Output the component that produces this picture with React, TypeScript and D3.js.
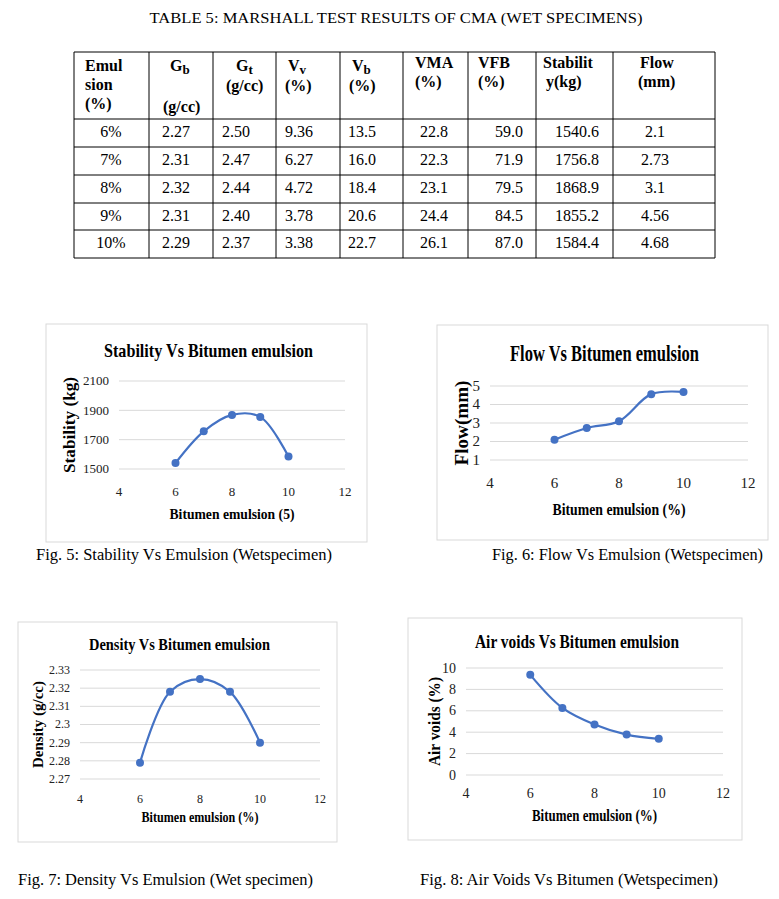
import * as d3 from 'd3';

// Table 5 values (wet specimens)
const emulsion = [6, 7, 8, 9, 10];
const gb = [2.27, 2.31, 2.32, 2.31, 2.29];
const gt = [2.5, 2.47, 2.44, 2.4, 2.37];
const vv = [9.36, 6.27, 4.72, 3.78, 3.38];
const vb = [13.5, 16.0, 18.4, 20.6, 22.7];
const vma = [22.8, 22.3, 23.1, 24.4, 26.1];
const vfb = [59.0, 71.9, 79.5, 84.5, 87.0];
const stability = [1540.6, 1756.8, 1868.9, 1855.2, 1584.4];
const flow = [2.1, 2.73, 3.1, 4.56, 4.68];
// density as plotted in Fig. 7
const density = [2.279, 2.318, 2.325, 2.318, 2.29];

const xTicks = [4, 6, 8, 10, 12];
const stabilityTicks = [1500, 1700, 1900, 2100];
const flowTicks = [1, 2, 3, 4, 5];
const densityTicks = [2.27, 2.28, 2.29, 2.3, 2.31, 2.32, 2.33];
const airVoidTicks = [0, 2, 4, 6, 8, 10];

const SERIF = '"Liberation Serif", "Times New Roman", serif';
const BLUE = '#4472C4';
const GRID = '#d9d9d9';

// table layout
const colX = [74, 149, 213, 276, 340, 403, 468, 536, 613, 715];
const rowY = [52, 119, 147, 175, 203, 230, 258];
const cellX = [111, 162, 222, 285, 348, 420, 495, 555, 655];
const cellAnchor = ['middle', 'start', 'start', 'start', 'start', 'start', 'start', 'start', 'middle'];

interface HeadLine {
    text: string;
    sub?: string;
    x: number;
    y: number;
}

const header: HeadLine[] = [
    { text: 'Emul', x: 85, y: 71 },
    { text: 'sion', x: 85, y: 90 },
    { text: '(%)', x: 85, y: 109 },
    { text: 'G', sub: 'b', x: 170, y: 71 },
    { text: '(g/cc)', x: 163, y: 112 },
    { text: 'G', sub: 't', x: 236, y: 71 },
    { text: '(g/cc)', x: 226, y: 91 },
    { text: 'V', sub: 'v', x: 288, y: 71 },
    { text: '(%)', x: 285, y: 91 },
    { text: 'V', sub: 'b', x: 352, y: 71 },
    { text: '(%)', x: 349, y: 91 },
    { text: 'VMA', x: 415, y: 68 },
    { text: '(%)', x: 415, y: 87 },
    { text: 'VFB', x: 478, y: 68 },
    { text: '(%)', x: 478, y: 87 },
    { text: 'Stabilit', x: 543, y: 68 },
    { text: 'y(kg)', x: 546, y: 87 },
    { text: 'Flow', x: 640, y: 68 },
    { text: '(mm)', x: 638, y: 87 },
];

const tableRows = emulsion.map((e, i) => [
    `${e}%`,
    gb[i].toFixed(2),
    gt[i].toFixed(2),
    vv[i].toFixed(2),
    vb[i].toFixed(1),
    vma[i].toFixed(1),
    vfb[i].toFixed(1),
    stability[i].toFixed(1),
    String(flow[i]),
]);

interface ChartCfg {
    box: [number, number, number, number];
    plot: { left: number; right: number; top: number; bottom: number };
    values: number[];
    yTicks: number[];
    title: string;
    titleY: number;
    titleSize: number;
    titleLen: number;
    xTitle: string;
    xTitleY: number;
    xTitleSize: number;
    xTitleLen: number;
    yTitle: string;
    yTitleX: number;
    yTitleSize: number;
    yTitleLen: number;
    tickSize: number;
    xTickY: number;
}

const charts: ChartCfg[] = [
    {
        box: [46, 324, 321, 218],
        plot: { left: 119, right: 345, top: 381, bottom: 469 },
        values: stability,
        yTicks: stabilityTicks,
        title: 'Stability Vs Bitumen emulsion',
        titleY: 357,
        titleSize: 19,
        titleLen: 209,
        xTitle: 'Bitumen emulsion (5)',
        xTitleY: 519,
        xTitleSize: 15,
        xTitleLen: 125,
        yTitle: 'Stability  (kg)',
        yTitleX: 75,
        yTitleSize: 16,
        yTitleLen: 96,
        tickSize: 13,
        xTickY: 496,
    },
    {
        box: [437, 325, 331, 215],
        plot: { left: 490, right: 748, top: 386, bottom: 460 },
        values: flow,
        yTicks: flowTicks,
        title: 'Flow Vs Bitumen emulsion',
        titleY: 361,
        titleSize: 23,
        titleLen: 189,
        xTitle: 'Bitumen emulsion (%)',
        xTitleY: 515,
        xTitleSize: 17,
        xTitleLen: 133,
        yTitle: 'Flow(mm)',
        yTitleX: 468,
        yTitleSize: 18,
        yTitleLen: 85,
        tickSize: 15,
        xTickY: 488,
    },
    {
        box: [18, 622, 319, 220],
        plot: { left: 80, right: 320, top: 670, bottom: 779 },
        values: density,
        yTicks: densityTicks,
        title: 'Density Vs Bitumen emulsion',
        titleY: 650,
        titleSize: 17,
        titleLen: 181,
        xTitle: 'Bitumen emulsion (%)',
        xTitleY: 822,
        xTitleSize: 15,
        xTitleLen: 117,
        yTitle: 'Density (g/cc)',
        yTitleX: 43,
        yTitleSize: 15,
        yTitleLen: 87,
        tickSize: 12,
        xTickY: 803,
    },
    {
        box: [408, 618, 334, 222],
        plot: { left: 466, right: 723, top: 668, bottom: 775 },
        values: vv,
        yTicks: airVoidTicks,
        title: 'Air voids Vs Bitumen emulsion',
        titleY: 648,
        titleSize: 18,
        titleLen: 204,
        xTitle: 'Bitumen emulsion (%)',
        xTitleY: 821,
        xTitleSize: 16,
        xTitleLen: 125,
        yTitle: 'Air voids (%)',
        yTitleX: 440,
        yTitleSize: 16,
        yTitleLen: 89,
        tickSize: 14,
        xTickY: 798,
    },
];

const captions = [
    { text: 'Fig. 5: Stability Vs Emulsion (Wetspecimen)', x: 36, y: 560, len: 296 },
    { text: 'Fig. 6: Flow Vs Emulsion (Wetspecimen)', x: 492, y: 560, len: 271 },
    { text: 'Fig. 7: Density Vs Emulsion (Wet specimen)', x: 18, y: 885, len: 295 },
    { text: 'Fig. 8: Air Voids Vs Bitumen (Wetspecimen)', x: 420, y: 885, len: 298 },
];

function Chart({ cfg }: { cfg: ChartCfg }) {
    const { box, plot } = cfg;
    const x = d3.scaleLinear().domain([4, 12]).range([plot.left, plot.right]);
    const y = d3
        .scaleLinear()
        .domain(d3.extent(cfg.yTicks) as [number, number])
        .range([plot.bottom, plot.top]);
    const line = d3
        .line<number>()
        .x((_, i) => x(emulsion[i]))
        .y((d) => y(d))
        .curve(d3.curveCatmullRom.alpha(0.5));
    const midX = (plot.left + plot.right) / 2;
    const midY = (plot.top + plot.bottom) / 2;

    return (
        <g fontFamily={SERIF}>
            <rect x={box[0]} y={box[1]} width={box[2]} height={box[3]} fill="#fff" stroke={GRID} />
            <text
                x={box[0] + box[2] / 2 + 2}
                y={cfg.titleY}
                textAnchor="middle"
                fontWeight="bold"
                fontSize={cfg.titleSize}
                textLength={cfg.titleLen}
                lengthAdjust="spacingAndGlyphs"
            >
                {cfg.title}
            </text>
            {cfg.yTicks.map((t) => (
                <g key={t}>
                    <line x1={plot.left} x2={plot.right} y1={y(t)} y2={y(t)} stroke={GRID} />
                    <text
                        x={plot.left - 10}
                        y={y(t) + cfg.tickSize * 0.33}
                        textAnchor="end"
                        fontSize={cfg.tickSize}
                        fill="#222"
                    >
                        {t}
                    </text>
                </g>
            ))}
            {xTicks.map((t) => (
                <text key={t} x={x(t)} y={cfg.xTickY} textAnchor="middle" fontSize={cfg.tickSize} fill="#222">
                    {t}
                </text>
            ))}
            <text
                x={midX}
                y={cfg.xTitleY}
                textAnchor="middle"
                fontWeight="bold"
                fontSize={cfg.xTitleSize}
                textLength={cfg.xTitleLen}
                lengthAdjust="spacingAndGlyphs"
            >
                {cfg.xTitle}
            </text>
            <text
                transform={`translate(${cfg.yTitleX}, ${midY}) rotate(-90)`}
                textAnchor="middle"
                fontWeight="bold"
                fontSize={cfg.yTitleSize}
                textLength={cfg.yTitleLen}
                lengthAdjust="spacingAndGlyphs"
            >
                {cfg.yTitle}
            </text>
            <path d={line(cfg.values) || ''} fill="none" stroke={BLUE} strokeWidth={2.2} />
            {cfg.values.map((v, i) => (
                <circle key={i} cx={x(emulsion[i])} cy={y(v)} r={4} fill={BLUE} />
            ))}
        </g>
    );
}

export default function App() {
    return (
        <svg
            width={779}
            height={899}
            viewBox="0 0 779 899"
            style={{ position: 'absolute', left: 0, top: 0, background: '#fff' }}
        >
            <rect width={779} height={899} fill="#fff" />
            <g fontFamily={SERIF} fill="#000">
                <text x={396} y={23} textAnchor="middle" fontSize={15.5} textLength={493} lengthAdjust="spacingAndGlyphs">
                    TABLE 5: MARSHALL TEST RESULTS OF CMA (WET SPECIMENS)
                </text>
                {/* table grid */}
                {colX.map((cx) => (
                    <line key={`c${cx}`} x1={cx} x2={cx} y1={rowY[0]} y2={rowY[rowY.length - 1]} stroke="#000" />
                ))}
                {rowY.map((ry) => (
                    <line key={`r${ry}`} x1={colX[0]} x2={colX[colX.length - 1]} y1={ry} y2={ry} stroke="#000" />
                ))}
                {header.map((h, i) => (
                    <text key={i} x={h.x} y={h.y} fontWeight="bold" fontSize={16}>
                        {h.text}
                        {h.sub && (
                            <tspan fontSize={13} dy={3}>
                                {h.sub}
                            </tspan>
                        )}
                    </text>
                ))}
                {tableRows.map((row, r) =>
                    row.map((cell, c) => (
                        <text
                            key={`${r}-${c}`}
                            x={cellX[c]}
                            y={rowY[r + 1] + 18}
                            fontSize={16}
                            textAnchor={cellAnchor[c] as 'start' | 'middle'}
                        >
                            {cell}
                        </text>
                    ))
                )}
            </g>
            {charts.map((cfg) => (
                <Chart key={cfg.title} cfg={cfg} />
            ))}
            {captions.map((c) => (
                <text
                    key={c.text}
                    x={c.x}
                    y={c.y}
                    fontFamily={SERIF}
                    fontSize={16}
                    textLength={c.len}
                    lengthAdjust="spacingAndGlyphs"
                >
                    {c.text}
                </text>
            ))}
        </svg>
    );
}
